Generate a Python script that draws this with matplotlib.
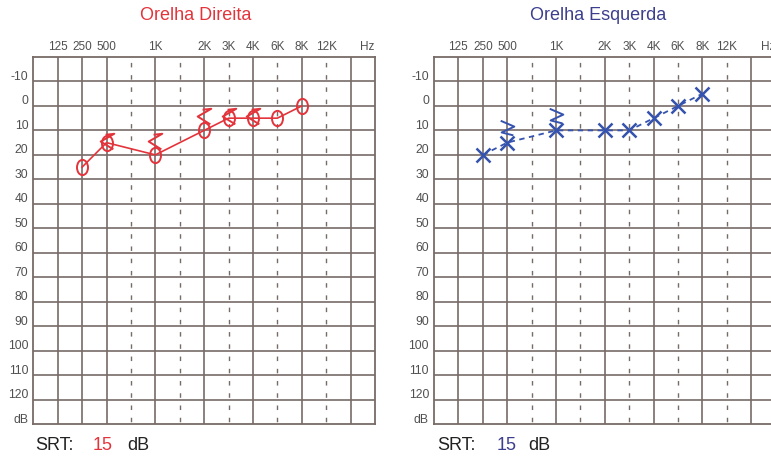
"""Audiograma: orelha direita / orelha esquerda"""

import matplotlib

matplotlib.use("Agg")
import matplotlib.pyplot as plt
from matplotlib.path import Path
from matplotlib.transforms import Affine2D

plt.rcParams["font.family"] = ["Liberation Sans", "DejaVu Sans"]

# colunas do audiograma (uma por frequência)
COLUMN_FREQS = [125, 250, 500, 750, 1000, 1500, 2000, 3000, 4000, 6000, 8000, 12000, 16000]
SOLID_FREQS = [125, 250, 500, 1000, 2000, 4000, 8000, 16000]
TICK_FREQS = [125, 250, 500, 1000, 2000, 3000, 4000, 6000, 8000, 12000]
TICK_LABELS = ["125", "250", "500", "1K", "2K", "3K", "4K", "6K", "8K", "12K"]
DB_LEVELS = [-10, 0, 10, 20, 30, 40, 50, 60, 70, 80, 90, 100, 110, 120]

# orelha direita
right_air_freqs = [250, 500, 1000, 2000, 3000, 4000, 6000, 8000]
right_air_db = [25, 15, 20, 10, 5, 5, 5, 0]
right_bone_freqs = [500, 1000, 2000, 3000, 4000]
right_bone_db = [15, 15, 5, 5, 5]
right_srt = 15

# orelha esquerda
left_air_freqs = [250, 500, 1000, 2000, 3000, 4000, 6000, 8000]
left_air_db = [20, 15, 10, 10, 10, 5, 0, -5]
left_bone_freqs = [500, 1000]
left_bone_db = [10, 5]
left_srt = 15

RED = "#e3343c"
BLUE = "#3553ae"
TITLE_BLUE = "#3c3f8e"
GRID = "#776b67"
LABEL = "#505050"

W, H = 771, 459

ELLIPSE = Path.unit_circle().transformed(Affine2D().scale(0.72, 1.0))
BONE_RIGHT = Path([(-0.2, 0.9), (0.7, 1.0), (-0.7, 0.2), (0.6, -0.6)],
                  [Path.MOVETO, Path.LINETO, Path.LINETO, Path.LINETO])
BONE_LEFT = Path([(-0.7, 1.0), (0.7, 0.4), (-0.6, -0.2), (0.6, -0.5)],
                 [Path.MOVETO, Path.LINETO, Path.LINETO, Path.LINETO])


def col(freq):
    return COLUMN_FREQS.index(freq) + 1


def draw_grid(ax):
    ax.set_xlim(0, 14)
    ax.set_ylim(130, -20)
    ax.set_xticks([])
    ax.set_yticks([])
    for s in ax.spines.values():
        s.set_color(GRID)
        s.set_linewidth(1.3)
    for lvl in DB_LEVELS:
        ax.axhline(lvl, color=GRID, lw=1.2, zorder=1)
    for f in COLUMN_FREQS:
        if f in SOLID_FREQS:
            ax.axvline(col(f), color=GRID, lw=1.2, zorder=1)
        else:
            ax.axvline(col(f), color=GRID, lw=1.0, zorder=1,
                       linestyle=(7.19, (3.24, 5.57)))

    for f, lbl in zip(TICK_FREQS, TICK_LABELS):
        ax.annotate(lbl, xy=(col(f), 1), xycoords=("data", "axes fraction"),
                    xytext=(0, 7.2), textcoords="offset points",
                    ha="center", va="center", fontsize=8.5, color=LABEL)
    ax.annotate("Hz", xy=(13.7, 1), xycoords=("data", "axes fraction"),
                xytext=(0, 7.2), textcoords="offset points",
                ha="center", va="center", fontsize=8.5, color=LABEL)

    for lvl in DB_LEVELS + [130]:
        txt = "dB" if lvl == 130 else str(lvl)
        ax.annotate(txt, xy=(0, lvl), xycoords=("axes fraction", "data"),
                    xytext=(-3.6, 3.2), textcoords="offset points",
                    ha="right", va="center", fontsize=8.7, color=LABEL)


fig = plt.figure(figsize=(W / 100, H / 100), dpi=100)
ax_r = fig.add_axes([33.3 / W, 35 / H, 341.7 / W, 367 / H])
ax_l = fig.add_axes([434 / W, 35 / H, 341.7 / W, 367 / H])
draw_grid(ax_r)
draw_grid(ax_l)

# orelha direita: via aérea (O) e óssea (<)
ax_r.plot([col(f) for f in right_air_freqs], right_air_db, color=RED, lw=1.2,
          marker=ELLIPSE, markersize=11, markerfacecolor="none",
          markeredgecolor=RED, markeredgewidth=1.4, zorder=3)
ax_r.plot([col(f) for f in right_bone_freqs], right_bone_db, linestyle="none",
          marker=BONE_RIGHT, markersize=14, markerfacecolor="none",
          markeredgecolor=RED, markeredgewidth=1.4, zorder=3)

# orelha esquerda: via aérea (X) e óssea (>)
ax_l.plot([col(f) for f in left_air_freqs], left_air_db, color=BLUE, lw=1.3,
          linestyle=(0, (3, 2.5)), marker="x", markersize=10,
          markeredgecolor=BLUE, markeredgewidth=1.8, zorder=3)
ax_l.plot([col(f) for f in left_bone_freqs], left_bone_db, linestyle="none",
          marker=BONE_LEFT, markersize=14, markerfacecolor="none",
          markeredgecolor=BLUE, markeredgewidth=1.4, zorder=3)

fig.text(196 / W, 1 - 16 / H, "Orelha Direita", color=RED, fontsize=13,
         ha="center", va="center")
fig.text(598 / W, 1 - 16 / H, "Orelha Esquerda", color=TITLE_BLUE, fontsize=13,
         ha="center", va="center")

y_srt = 1 - 446 / H
fig.text(35 / W, y_srt, "SRT:", fontsize=13, color="#222222", va="center")
fig.text(93 / W, y_srt, str(right_srt), fontsize=13, color=RED, va="center")
fig.text(127 / W, y_srt, "dB", fontsize=13, color="#222222", va="center")
fig.text(437 / W, y_srt, "SRT:", fontsize=13, color="#222222", va="center")
fig.text(497 / W, y_srt, str(left_srt), fontsize=13, color=TITLE_BLUE, va="center")
fig.text(528 / W, y_srt, "dB", fontsize=13, color="#222222", va="center")

fig.savefig("out.png", dpi=100)
